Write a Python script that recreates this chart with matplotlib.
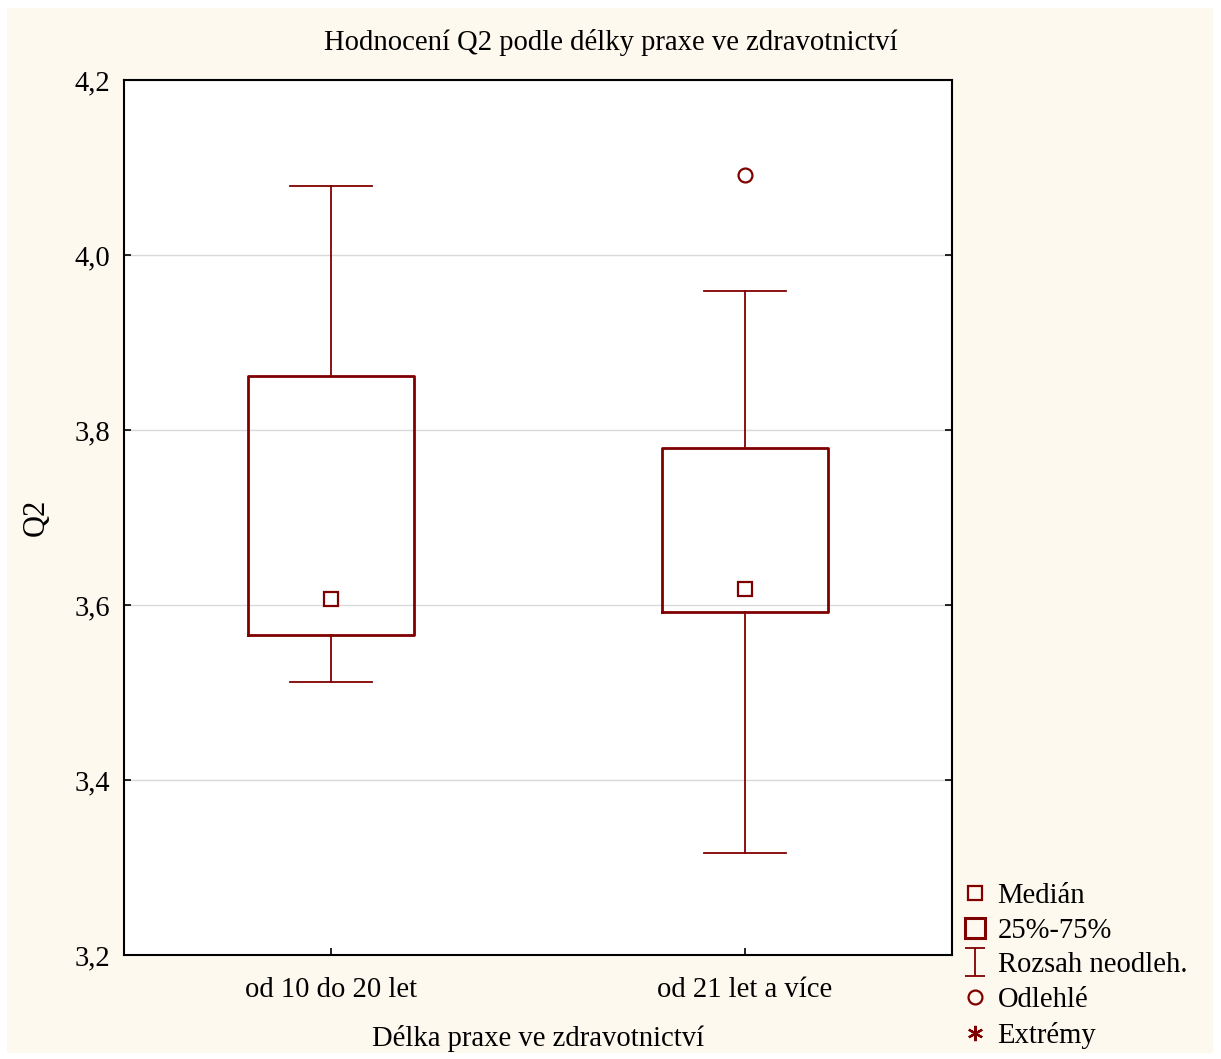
import matplotlib
matplotlib.use("Agg")
import matplotlib.pyplot as plt
from matplotlib.lines import Line2D
from matplotlib.patches import Rectangle
from matplotlib.path import Path

# Box plot summary for Q2 by length of practice
groups = ["od 10 do 20 let", "od 21 let a více"]
medians = [3.607, 3.618]
q1 = [3.566, 3.592]
q3 = [3.862, 3.779]
whisk_lo = [3.512, 3.317]
whisk_hi = [4.079, 3.959]
outliers = [[], [4.091]]

y_ticks = [3.2, 3.4, 3.6, 3.8, 4.0, 4.2]
legend_labels = ["Medián", "25%-75%", "Rozsah neodleh.", "Odlehlé", "Extrémy"]

RED = "#800000"
CREAM = "#FEF9EF"
FS = 20.6

plt.rcParams["font.family"] = ["Liberation Serif", "DejaVu Serif"]

W, H = 1221, 1059
fig = plt.figure(figsize=(W / 100, H / 100), dpi=100, facecolor="white")
fig.patches.append(Rectangle((7 / W, 6 / H), 1206 / W, 1045 / H,
                             transform=fig.transFigure, facecolor=CREAM,
                             edgecolor="none", zorder=-10))

ax = fig.add_axes([124 / W, 104 / H, 828 / W, 875 / H])
ax.set_facecolor("white")

positions = list(range(1, len(groups) + 1))
stats = []
for i in range(len(groups)):
    stats.append(dict(med=medians[i], q1=q1[i], q3=q3[i],
                      whislo=whisk_lo[i], whishi=whisk_hi[i],
                      fliers=outliers[i]))

ax.bxp(stats, positions=positions, widths=0.4, capwidths=0.2,
       boxprops=dict(color=RED, linewidth=2.0),
       whiskerprops=dict(color=RED, linewidth=1.3),
       capprops=dict(color=RED, linewidth=1.3),
       medianprops=dict(linewidth=0),
       flierprops=dict(marker="o", markersize=10, markerfacecolor="none",
                       markeredgecolor=RED, markeredgewidth=1.6),
       zorder=3)
ax.plot(positions, medians, linestyle="none", marker="s", markersize=10,
        markerfacecolor="white", markeredgecolor=RED, markeredgewidth=1.6,
        zorder=4)

ax.set_xlim(0.5, len(groups) + 0.5)
ax.set_ylim(y_ticks[0], y_ticks[-1])
ax.set_yticks(y_ticks)
ax.set_yticklabels([f"{t:.1f}".replace(".", ",") for t in y_ticks])
ax.set_xticks(positions)
ax.set_xticklabels(groups)
ax.tick_params(axis="y", direction="in", length=5, width=1.2,
               labelsize=FS, left=True, right=True, pad=10)
ax.tick_params(axis="x", direction="in", length=5, width=1.2,
               labelsize=FS, pad=16)
ax.grid(axis="y", color="#D9D9D9", linewidth=1.0, zorder=0)
ax.set_axisbelow(True)
for s in ax.spines.values():
    s.set_linewidth(1.5)
    s.set_color("black")

ax.set_xlabel("Délka praxe ve zdravotnictví", fontsize=FS, labelpad=16)
ax.set_ylabel("Q2", fontsize=22, labelpad=17)
fig.text(611 / W, 1 - 42 / H, "Hodnocení Q2 podle délky praxe ve zdravotnictví",
         ha="center", va="center", fontsize=FS)

# I-beam glyph for the non-outlier range
ibeam = Path([(-0.75, 1), (0.75, 1), (0, 1), (0, -1), (-0.75, -1), (0.75, -1)],
             [Path.MOVETO, Path.LINETO, Path.MOVETO, Path.LINETO,
              Path.MOVETO, Path.LINETO])
handles = [
    Line2D([], [], linestyle="none", marker="s", markersize=10,
           markerfacecolor="none", markeredgecolor=RED, markeredgewidth=1.6),
    Line2D([], [], linestyle="none", marker="s", markersize=15,
           markerfacecolor="none", markeredgecolor=RED, markeredgewidth=2.2),
    Line2D([], [], linestyle="none", marker=ibeam, markersize=20,
           markerfacecolor="none", markeredgecolor=RED, markeredgewidth=1.3),
    Line2D([], [], linestyle="none", marker="o", markersize=10,
           markerfacecolor="none", markeredgecolor=RED, markeredgewidth=1.6),
    Line2D([], [], linestyle="none", marker=(6, 2, 0), markersize=11,
           markerfacecolor="none", markeredgecolor=RED, markeredgewidth=1.6),
]
fig.legend(handles, legend_labels, loc="lower left",
           bbox_to_anchor=(949 / W, 1 - 1060 / H), frameon=False,
           fontsize=FS, handlelength=1.0, handletextpad=0.3,
           labelspacing=0.3, borderaxespad=0)

fig.savefig("out.png", dpi=100, facecolor="white")
